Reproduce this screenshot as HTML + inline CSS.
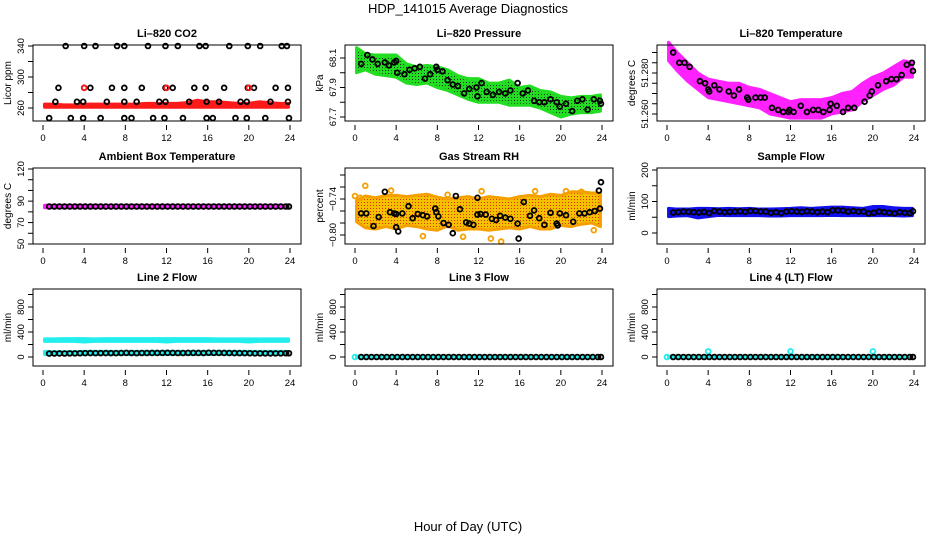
<!DOCTYPE html>
<html><head><meta charset="utf-8"><style>
body{margin:0;background:#fff}
svg{display:block;font-family:"Liberation Sans",sans-serif}
</style></head><body>
<svg id="chart" width="936" height="540" viewBox="0 0 936 540" xmlns="http://www.w3.org/2000/svg">
<defs>
<pattern id="pg" width="3" height="3" patternUnits="userSpaceOnUse"><rect width="3" height="3" fill="#22dd22"/><rect x="1" y="1" width="1" height="1" fill="#113311"/></pattern>
<pattern id="pm" width="3" height="3" patternUnits="userSpaceOnUse"><rect width="3" height="3" fill="#ff22ff"/><rect x="1" y="1" width="1" height="1" fill="#dd00dd"/></pattern>
<pattern id="po" width="3" height="3" patternUnits="userSpaceOnUse"><rect width="3" height="3" fill="#f5c000"/><rect x="1" y="1" width="1" height="1" fill="#e03000"/></pattern>
</defs>
<text x="468" y="13" font-size="13" text-anchor="middle">HDP_141015  Average Diagnostics</text>
<text x="468" y="531" font-size="13" text-anchor="middle">Hour of Day (UTC)</text>
</svg>
<script>
// ---- data ----
const hrs = [0,1,2,3,4,5,6,7,8,9,10,11,12,13,14,15,16,17,18,19,20,21,22,23,24];
const halfHrs = [0.6,1.1,1.6,2.1,2.6,3.1,3.6,4.1,4.6,5.1,5.6,6.1,6.6,7.1,7.6,8.1,8.6,9.1,9.6,10.1,10.6,11.1,11.6,12.1,12.6,13.1,13.6,14.1,14.6,15.1,15.6,16.1,16.6,17.1,17.6,18.1,18.6,19.1,19.6,20.1,20.6,21.1,21.6,22.1,22.6,23.1,23.6,23.9];

// CO2
const co2Lo = [261,261,261,261,261,261,261,261,261,261,261,261,261,261,261,261,261,261,261,261,261,261,261,261,261];
const co2Hi = [265,265,264,264,265,265,265,265,265,265,266,266,266,266,267,270,268,268,267,266,266,268,267,266,266];
const co2T = [2.2,4.0,5.1,7.2,7.9,10.2,11.9,13.1,15.2,15.8,18.1,19.9,21.1,23.2,23.7, 1.5,4.0,4.6,6.7,7.9,9.6,11.9,12.6,14.7,15.8,17.6,19.9,20.5,22.6,23.8, 1.2,3.3,3.9,6.2,7.9,9.1,11.3,11.9,14.2,15.9,17.1,19.2,19.8,22.1,23.8, 0.6,2.7,3.9,5.6,7.9,8.6,10.7,11.8,13.6,15.9,16.5,18.7,19.8,21.6,23.9];
const co2V = [340,340,340,340,340,340,340,340,340,340,340,340,340,340,340, 286,286,286,286,286,286,286,286,286,286,286,286,286,286,286, 268,268,268,268,268,268,268,268,268,268,268,268,268,268,268, 247,247,247,247,247,247,247,247,247,247,247,247,247,247,247];
const co2RedT = [4.0,12.0,20.0];
const co2RedV = [286,286,286];

// Pressure
const prLo = [68.00,68.02,67.99,67.98,67.97,67.93,67.92,67.93,67.90,67.88,67.85,67.82,67.80,67.80,67.80,67.78,67.78,67.78,67.76,67.73,67.70,67.72,67.73,67.73,67.74];
const prHi = [68.17,68.13,68.12,68.12,68.12,68.06,68.04,68.05,68.04,68.02,67.98,67.96,67.96,67.93,67.93,67.95,67.90,67.91,67.88,67.87,67.84,67.83,67.84,67.84,67.85];
const prT = [0.6,1.2,1.7,2.2,2.9,3.3,3.8,4.0,4.1,4.8,5.3,5.8,6.3,6.8,7.3,7.9,8.0,8.5,9.0,9.5,10.0,10.6,11.1,11.8,11.9,12.3,12.8,13.4,14.0,14.6,15.1,15.8,16.3,16.8,17.4,17.9,18.4,19.0,19.6,19.9,20.5,21.1,21.6,22.1,22.6,23.2,23.8,23.9];
const prV = [68.06,68.12,68.09,68.06,68.07,68.05,68.07,68.08,68.00,67.99,68.02,68.03,68.04,67.96,67.99,68.04,68.02,68.01,67.95,67.92,67.91,67.86,67.89,67.90,67.84,67.93,67.87,67.85,67.87,67.86,67.88,67.93,67.86,67.88,67.81,67.80,67.80,67.82,67.80,67.77,67.79,67.74,67.81,67.82,67.75,67.82,67.81,67.79];

// Li-820 temperature
const tpLo = [51.286,51.281,51.276,51.272,51.268,51.267,51.266,51.265,51.264,51.263,51.260,51.259,51.258,51.258,51.258,51.258,51.260,51.261,51.262,51.266,51.269,51.272,51.274,51.278,51.278];
const tpHi = [51.295,51.290,51.285,51.280,51.277,51.276,51.275,51.275,51.273,51.272,51.270,51.268,51.266,51.267,51.267,51.267,51.268,51.270,51.271,51.275,51.278,51.280,51.283,51.286,51.285];
const tpT = [0.6,1.2,1.7,2.2,3.2,3.7,4.0,4.1,4.6,5.1,6.0,6.5,7.0,7.8,7.9,8.6,9.1,9.5,10.2,10.8,11.3,11.8,11.9,12.3,13.0,13.6,14.2,14.7,15.2,15.8,15.9,16.5,17.1,17.6,18.2,19.2,19.7,19.9,20.5,21.3,21.8,22.3,22.8,23.3,23.8,23.9];
const tpV = [51.290,51.285,51.285,51.283,51.276,51.275,51.272,51.271,51.274,51.272,51.271,51.269,51.272,51.268,51.267,51.268,51.268,51.268,51.263,51.262,51.261,51.261,51.262,51.261,51.264,51.261,51.262,51.262,51.261,51.262,51.265,51.264,51.261,51.263,51.263,51.266,51.269,51.271,51.274,51.276,51.277,51.277,51.279,51.284,51.285,51.281];

// Ambient box temperature
const ambT = halfHrs;
const ambV = [85,85,85,85,85,85,85,85,85,85,85,85,85,85,85,85,85,85,85,85,85,85,85,85,85,85,85,85,85,85,85,85,85,85,85,85,85,85,85,85,85,85,85,85,85,85,85,85];

// Gas stream RH
const rhLo = [-0.778,-0.788,-0.790,-0.786,-0.790,-0.784,-0.786,-0.790,-0.792,-0.785,-0.792,-0.790,-0.790,-0.792,-0.790,-0.788,-0.790,-0.786,-0.790,-0.790,-0.784,-0.786,-0.782,-0.780,-0.786];
const rhHi = [-0.742,-0.735,-0.738,-0.734,-0.734,-0.736,-0.734,-0.732,-0.737,-0.740,-0.738,-0.736,-0.740,-0.736,-0.738,-0.740,-0.736,-0.734,-0.736,-0.732,-0.734,-0.728,-0.728,-0.730,-0.730];
const rhOutT = [1.0,3.5,9.0,12.3,17.5,20.5,22.0,10.5,13.2,14.2,6.6,0.0,23.2,0.5];
const rhOutV = [-0.718,-0.726,-0.733,-0.727,-0.727,-0.727,-0.728,-0.803,-0.806,-0.811,-0.802,-0.735,-0.792,-0.738];
const rhT = [0.6,1.1,1.8,2.3,2.9,3.4,3.8,4.0,4.0,4.2,4.6,5.2,5.6,6.1,6.6,7.0,7.8,7.9,8.1,8.6,9.1,9.5,9.8,10.2,10.8,11.1,11.5,11.9,11.9,12.2,12.7,13.3,13.7,14.1,14.6,15.1,15.8,15.9,16.4,17.0,17.4,17.9,18.4,19.0,19.6,19.7,19.9,20.5,21.2,21.8,22.3,22.8,23.3,23.7,23.8,23.9];
const rhV = [-0.764,-0.764,-0.785,-0.770,-0.728,-0.762,-0.764,-0.765,-0.787,-0.794,-0.764,-0.752,-0.772,-0.765,-0.767,-0.769,-0.756,-0.762,-0.769,-0.780,-0.783,-0.797,-0.735,-0.757,-0.779,-0.781,-0.783,-0.766,-0.738,-0.765,-0.766,-0.773,-0.775,-0.768,-0.771,-0.773,-0.781,-0.806,-0.745,-0.768,-0.759,-0.772,-0.783,-0.763,-0.781,-0.784,-0.764,-0.767,-0.778,-0.764,-0.764,-0.762,-0.760,-0.726,-0.756,-0.712];

// Sample flow
const sfLo = [52,54,55,48,52,56,55,55,55,55,54,54,55,55,55,55,56,55,55,55,55,55,55,54,55];
const sfHi = [78,76,76,78,78,77,78,77,78,76,76,77,78,80,78,80,82,82,80,78,84,84,80,78,78];
const sfT = halfHrs;
const sfV = [65,66,68,67,66,65,67,63,70,68,66,67,68,69,67,70,70,68,68,64,66,63,68,69,68,67,69,68,66,68,66,72,72,71,68,70,68,68,62,64,68,66,64,62,66,64,63,69];

// Line 2 flow
const l2HiLo = [250,250,250,250,240,250,250,250,250,250,250,250,240,250,250,250,250,250,250,250,240,250,250,250,250];
const l2HiHi = [290,290,295,295,295,290,295,295,295,295,295,295,295,295,295,295,295,290,290,290,290,290,290,290,290];
const l2LoLo = [40,40,40,40,40,40,40,40,40,40,40,40,40,40,40,40,40,40,40,40,40,40,40,40,40];
const l2LoHi = [90,85,85,85,90,90,90,90,90,90,90,90,90,90,90,90,90,90,90,90,90,90,90,90,90];
const l2T = halfHrs;
const l2V = [55,56,57,56,58,58,60,62,63,62,62,63,62,62,64,66,64,62,64,64,65,65,66,67,66,64,64,66,66,65,64,68,66,66,65,64,63,62,62,60,58,58,58,57,58,58,60,60];

// Line 3 flow
const l3T = halfHrs;
const l3V = [0,0,0,0,0,0,0,0,0,0,0,0,0,0,0,0,0,0,0,0,0,0,0,0,0,0,0,0,0,0,0,0,0,0,0,0,0,0,0,0,0,0,0,0,0,0,0,0];
const l3CyanT = [0.0];
const l3CyanV = [0];

// Line 4 flow
const l4T = halfHrs;
const l4V = [0,0,0,0,0,0,0,0,0,0,0,0,0,0,0,0,0,0,0,0,0,0,0,0,0,0,0,0,0,0,0,0,0,0,0,0,0,0,0,0,0,0,0,0,0,0,0,0];
const l4CyanT = [0.0,4.0,12.0,20.0];
const l4CyanV = [0,90,90,90];

// ---- drawing ----
const NS = 'http://www.w3.org/2000/svg';
const svg = document.getElementById('chart');
function mk(tag, attrs, parent) {
  const e = document.createElementNS(NS, tag);
  for (const k in attrs) e.setAttribute(k, attrs[k]);
  (parent || svg).appendChild(e);
  return e;
}
const colX0 = [33, 345, 657], colX1 = [301, 613, 925];
const rowY0 = [45, 168, 289], rowY1 = [121, 244, 366];

function makePanel(r, c, name, title, ylab, yref, ticks, labels) {
  const x0 = colX0[c], x1 = colX1[c], y0 = rowY0[r], y1 = rowY1[r];
  const g = mk('g', {});
  
  
  const xs = h => x0 + 10 + h * (x1 - x0 - 21) / 24;
  const ys = v => yref[1] + (v - yref[0]) * (yref[3] - yref[1]) / (yref[2] - yref[0]);
  const t = mk('text', {x: (x0 + x1) / 2, y: y0 - 8, 'font-size': 11, 'font-weight': 'bold', 'text-anchor': 'middle'}, g);
  t.textContent = title;
  
  
  const yl = mk('text', {x: 0, y: 0, 'font-size': 10, 'text-anchor': 'middle', transform: `translate(${x0 - 22},${(y0 + y1) / 2}) rotate(-90)`}, g);
  yl.textContent = ylab;
  
  
  const plot = mk('g', {}, g);
  
  
  [0, 4, 8, 12, 16, 20, 24].forEach(h => {
    mk('line', {x1: xs(h), x2: xs(h), y1: y1 + 4, y2: y1 + 9, stroke: '#000', 'stroke-width': 1}, g);
    const tl = mk('text', {x: xs(h), y: y1 + 20, 'font-size': 9.5, 'text-anchor': 'middle'}, g);
    tl.textContent = h;
    
    
  });
  ticks.forEach(v => {
    mk('line', {x1: x0 - 5, x2: x0, y1: ys(v), y2: ys(v), stroke: '#000', 'stroke-width': 1}, g);
  });
  labels.forEach(v => {
    const tl = mk('text', {x: 0, y: 0, 'font-size': 9.5, 'text-anchor': 'middle', transform: `translate(${x0 - 9},${ys(v[0])}) rotate(-90)`}, g);
    tl.textContent = v[1];
    
    
  });
  const box = mk('rect', {x: x0, y: y0, width: x1 - x0, height: y1 - y0, fill: 'none', stroke: '#000', 'stroke-width': 1}, g);
  
  
  return {xs, ys, plot, name};
}
function band(p, ts, lo, hi, fill, tag) {
  let pts = ts.map((t, i) => p.xs(Math.min(23.85, Math.max(0.15, t))) + ',' + p.ys(hi[i]));
  for (let i = ts.length - 1; i >= 0; i--) pts.push(p.xs(Math.min(23.85, Math.max(0.15, ts[i]))) + ',' + p.ys(lo[i]));
  const e = mk('polygon', {points: pts.join(' '), fill: fill, stroke: fill === 'url(#pg)' ? '#22dd22' : (fill.startsWith('url') ? '#ff22ff' : fill), 'stroke-width': 3, 'stroke-linejoin': 'round'}, p.plot);
  if (fill === 'url(#po)') e.setAttribute('stroke', '#f5a000');
  
  
}
function points(p, ts, vs, color, tag, r) {
  ts.forEach((t, i) => {
    const e = mk('circle', {cx: p.xs(t), cy: p.ys(vs[i]), r: r || 2.4, fill: 'none', stroke: color, 'stroke-width': 1.8}, p.plot);
    
    
  });
}

let p = makePanel(0, 0, 'co2', 'Li\u2013820 CO2', 'Licor ppm', [260, 108, 340, 46], [260, 280, 300, 320, 340], [[260, '260'], [300, '300'], [340, '340']]);
band(p, hrs, co2Lo, co2Hi, '#ff1a1a', 'red-band');
points(p, co2T, co2V, '#000', 'point');
points(p, co2RedT, co2RedV, '#ff1a1a', 'red-point');

p = makePanel(0, 1, 'pressure', 'Li\u2013820 Pressure', 'kPa', [67.7, 117, 68.1, 58], [67.7, 67.8, 67.9, 68.0, 68.1], [[67.7, '67.7'], [67.9, '67.9'], [68.1, '68.1']]);
band(p, hrs, prLo, prHi, 'url(#pg)', 'green-band');
points(p, prT, prV, '#000', 'point');

p = makePanel(0, 2, 'li820-temperature', 'Li\u2013820 Temperature', 'degrees C', [51.26, 114, 51.28, 73], [51.26, 51.265, 51.27, 51.275, 51.28, 51.285, 51.29], [[51.26, '51.260'], [51.28, '51.280']]);
band(p, hrs, tpLo, tpHi, '#ff22ff', 'magenta-band');
points(p, tpT, tpV, '#000', 'point');

p = makePanel(1, 0, 'ambient-temperature', 'Ambient Box Temperature', 'degrees C', [50, 244, 120, 169], [50, 60, 70, 80, 90, 100, 110, 120], [[50, '50'], [70, '70'], [90, '90'], [120, '120']]);
band(p, hrs, ambV.slice(0, 25).map(v => v - 1.2), ambV.slice(0, 25).map(v => v + 1.2), '#ff22ff', 'magenta-band');
points(p, ambT, ambV, '#000', 'point');

p = makePanel(1, 1, 'gas-stream-rh', 'Gas Stream RH', 'percent', [-0.80, 235, -0.74, 199], [-0.80, -0.78, -0.76, -0.74, -0.72, -0.70], [[-0.80, '\u22120.80'], [-0.74, '\u22120.74']]);
band(p, hrs, rhLo, rhHi, 'url(#po)', 'orange-band');
points(p, rhOutT, rhOutV, '#f5a000', 'orange-point');
points(p, rhT, rhV, '#000', 'point');

p = makePanel(1, 2, 'sample-flow', 'Sample Flow', 'ml/min', [0, 233, 200, 170], [0, 50, 100, 150, 200], [[0, '0'], [100, '100'], [200, '200']]);
band(p, hrs, sfLo, sfHi, '#1010ee', 'blue-band');
points(p, sfT, sfV, '#000', 'point');

p = makePanel(2, 0, 'line2-flow', 'Line 2 Flow', 'ml/min', [0, 357, 400, 332], [0, 200, 400, 600, 800, 1000], [[0, '0'], [400, '400'], [800, '800']]);
band(p, hrs, l2HiLo, l2HiHi, '#22eeee', 'cyan-band-high');
band(p, hrs, l2LoLo, l2LoHi, '#22eeee', 'cyan-band-low');
points(p, l2T, l2V, '#000', 'point');

p = makePanel(2, 1, 'line3-flow', 'Line 3 Flow', 'ml/min', [0, 357, 400, 332], [0, 200, 400, 600, 800, 1000], [[0, '0'], [400, '400'], [800, '800']]);
band(p, hrs, l3V.slice(0, 25).map(v => v - 10), l3V.slice(0, 25).map(v => v + 10), '#22eeee', 'cyan-band');
points(p, l3CyanT, l3CyanV, '#22eeee', 'cyan-point');
points(p, l3T, l3V, '#000', 'point');

p = makePanel(2, 2, 'line4-flow', 'Line 4 (LT) Flow', 'ml/min', [0, 357, 400, 332], [0, 200, 400, 600, 800, 1000], [[0, '0'], [400, '400'], [800, '800']]);
band(p, hrs, l4V.slice(0, 25).map(v => v - 10), l4V.slice(0, 25).map(v => v + 10), '#22eeee', 'cyan-band');
points(p, l4CyanT, l4CyanV, '#22eeee', 'cyan-point');
points(p, l4T, l4V, '#000', 'point');
</script>
</body></html>
